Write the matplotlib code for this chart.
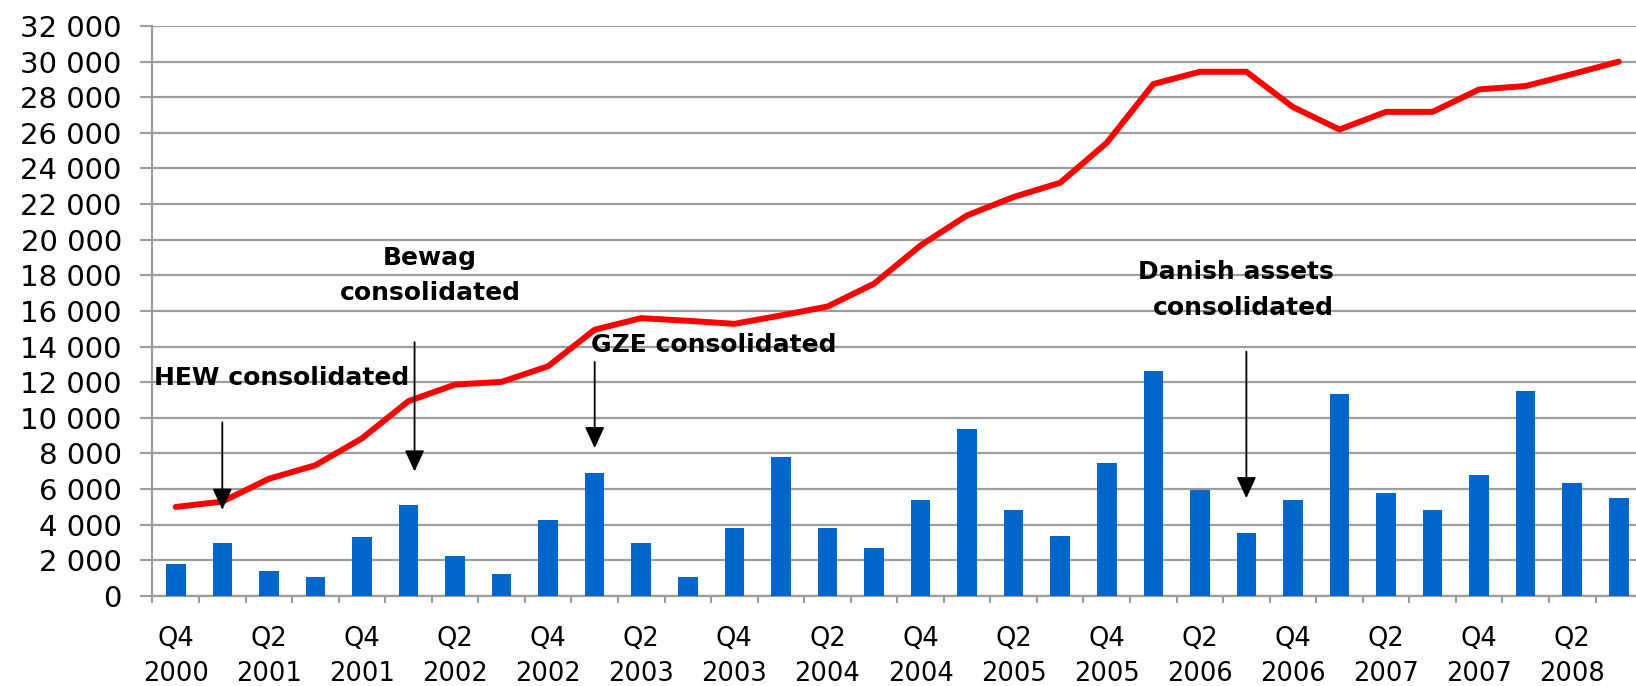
import matplotlib
matplotlib.use("Agg")
import matplotlib.pyplot as plt
from matplotlib.ticker import FixedLocator, FuncFormatter
import numpy as np

# quarterly categories, Q4 2000 .. Q3 2008
quarters = ["Q4\n2000",
            "Q1\n2001", "Q2\n2001", "Q3\n2001", "Q4\n2001",
            "Q1\n2002", "Q2\n2002", "Q3\n2002", "Q4\n2002",
            "Q1\n2003", "Q2\n2003", "Q3\n2003", "Q4\n2003",
            "Q1\n2004", "Q2\n2004", "Q3\n2004", "Q4\n2004",
            "Q1\n2005", "Q2\n2005", "Q3\n2005", "Q4\n2005",
            "Q1\n2006", "Q2\n2006", "Q3\n2006", "Q4\n2006",
            "Q1\n2007", "Q2\n2007", "Q3\n2007", "Q4\n2007",
            "Q1\n2008", "Q2\n2008", "Q3\n2008"]

# blue columns
bar_vals = [1810, 2960, 1380, 1090, 3340, 5110, 2230, 1260, 4260, 6920,
            2960, 1090, 3810, 7830, 3810, 2680, 5400, 9360, 4830, 3360,
            7490, 12640, 5960, 3530, 5400, 11340, 5790, 4830, 6810, 11510,
            6360, 5510]

# red line
line_vals = [5000, 5300, 6580, 7340, 8850, 10940, 11870, 12020, 12900, 14950,
             15600, 15450, 15280, 15750, 16250, 17530, 19680, 21370, 22400, 23200,
             25440, 28740, 29430, 29430, 27450, 26190, 27180, 27180, 28440, 28630,
             29300, 30000]

yticks = list(range(0, 32001, 2000))

GRID = "#9d9d9d"
BLUE = "#0066cc"
RED = "#ff0000"

plt.rcParams["font.family"] = ["DejaVu Sans"]

fig = plt.figure(figsize=(16.36, 6.86), dpi=100)
ax = fig.add_axes([0.0932, 0.1312, 0.9105, 0.8309])

x = np.arange(len(quarters))
ax.bar(x, bar_vals, width=0.42, color=BLUE, zorder=2)
ax.plot(x, line_vals, color=RED, lw=4.3, solid_capstyle="round",
        solid_joinstyle="round", zorder=3)

ax.set_xlim(-0.5, len(quarters) - 0.5)
ax.set_ylim(0, 32000)

# y axis
ax.yaxis.set_major_locator(FixedLocator(yticks))
ax.yaxis.set_major_formatter(FuncFormatter(lambda v, p: f"{int(v):,}".replace(",", " ")))
ax.grid(axis="y", color=GRID, lw=1.6, zorder=0)
ax.tick_params(axis="y", direction="out", length=8.6, width=1.5, color=GRID,
               pad=13.5, labelsize=21)

# x axis: boundary ticks on every category, labels every second one
ax.xaxis.set_minor_locator(FixedLocator(np.arange(-0.5, len(quarters), 1)))
ax.set_xticks(x[::2])
ax.set_xticklabels(quarters[::2], linespacing=1.45)
ax.tick_params(axis="x", which="major", length=0, pad=21.5, labelsize=18.5)
ax.tick_params(axis="x", which="minor", direction="out", length=5, width=1.5,
               color=GRID)

for s in ["top", "right"]:
    ax.spines[s].set_visible(False)
for s in ["left", "bottom"]:
    ax.spines[s].set_color(GRID)
    ax.spines[s].set_linewidth(1.6)
    ax.spines[s].set_zorder(1)

# annotations
txt = dict(fontsize=18, fontweight="bold", color="black", zorder=5)
arr = dict(arrowstyle="-|>,head_length=0.65,head_width=0.3", color="black",
           lw=1.3, shrinkA=0, shrinkB=0, mutation_scale=20)

ax.text(-0.47, 11870, "HEW consolidated", ha="left", va="baseline", **txt)
ax.annotate("", xy=(1, 4840), xytext=(1, 9750), arrowprops=arr, zorder=5)

ax.text(5.46, 18580, "Bewag", ha="center", va="baseline", **txt)
ax.text(5.46, 16590, "consolidated", ha="center", va="baseline", **txt)
ax.annotate("", xy=(5.13, 6990), xytext=(5.13, 14250), arrowprops=arr, zorder=5)

ax.text(8.93, 13680, "GZE consolidated", ha="left", va="baseline", **txt)
ax.annotate("", xy=(9, 8300), xytext=(9, 13140), arrowprops=arr, zorder=5)

ax.text(24.87, 17810, "Danish assets", ha="right", va="baseline", **txt)
ax.text(24.87, 15800, "consolidated", ha="right", va="baseline", **txt)
ax.annotate("", xy=(23, 5490), xytext=(23, 13720), arrowprops=arr, zorder=5)

fig.savefig("out.png", dpi=100)
